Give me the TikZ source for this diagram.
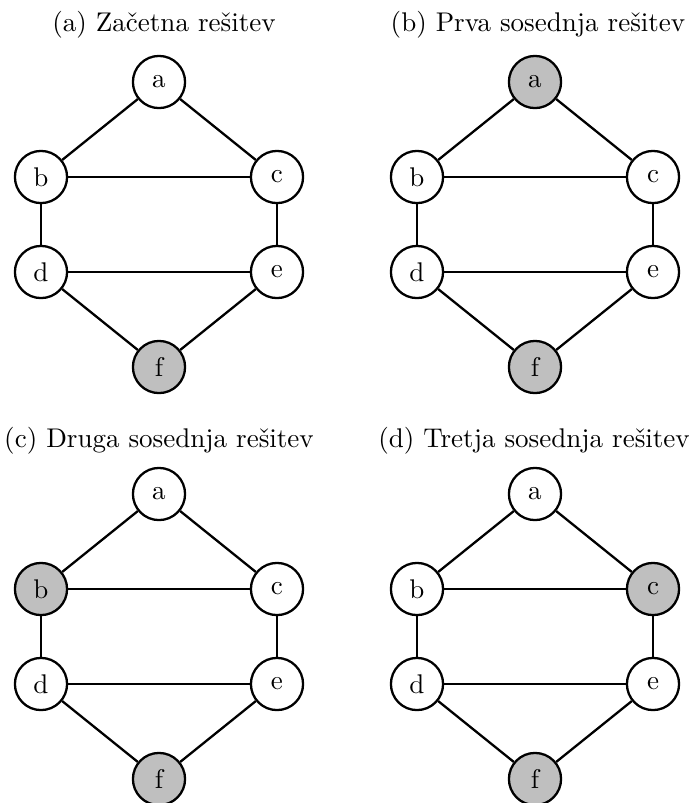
\documentclass[tikz,border=0pt]{standalone}
\tikzset{
  vtx/.style={circle, draw=black, line width=0.85pt, fill=white, minimum size=19.3pt, inner sep=0pt, font=\normalsize},
  sel/.style={fill=black!25},
  plain/.style={},
  edge/.style={line width=0.85pt, black},
  ttl/.style={anchor=base, inner sep=0pt, font=\normalsize}
}
% #1 prefix, #2 x shift, #3 y shift, #4-#9 styles of a..f
\newcommand{\mygraph}[9]{%
\begin{scope}[shift={(#2,#3)}]
  \node[vtx,#4] (#1a) at (159,82) {a};
  \node[vtx,#5] (#1b) at (41,177) {b};
  \node[vtx,#6] (#1c) at (277,177) {c};
  \node[vtx,#7] (#1d) at (41,272) {d};
  \node[vtx,#8] (#1e) at (277,272) {e};
  \node[vtx,#9] (#1f) at (159,367) {f};
  \draw[edge] (#1a) -- (#1b);
  \draw[edge] (#1a) -- (#1c);
  \draw[edge] (#1b) -- (#1c);
  \draw[edge] (#1b) -- (#1d);
  \draw[edge] (#1c) -- (#1e);
  \draw[edge] (#1d) -- (#1e);
  \draw[edge] (#1d) -- (#1f);
  \draw[edge] (#1e) -- (#1f);
\end{scope}}
\begin{document}
\begin{tikzpicture}[x=0.37pt, y=-0.37pt]
  \useasboundingbox (0,0) rectangle (691,803);
  \node[ttl] (ta) at (164,31.5) {(a) Začetna rešitev};
  \node[ttl] (tb) at (538,31.5) {(b) Prva sosednja rešitev};
  \node[ttl] (tc) at (159,447.5) {(c) Druga sosednja rešitev};
  \node[ttl] (td) at (534,447.5) {(d) Tretja sosednja rešitev};
  \mygraph{p}{0}{0}{plain}{plain}{plain}{plain}{plain}{sel}
  \mygraph{q}{376}{0}{sel}{plain}{plain}{plain}{plain}{sel}
  \mygraph{r}{0}{412}{plain}{sel}{plain}{plain}{plain}{sel}
  \mygraph{s}{376}{412}{plain}{plain}{sel}{plain}{plain}{sel}
\end{tikzpicture}
\end{document}
